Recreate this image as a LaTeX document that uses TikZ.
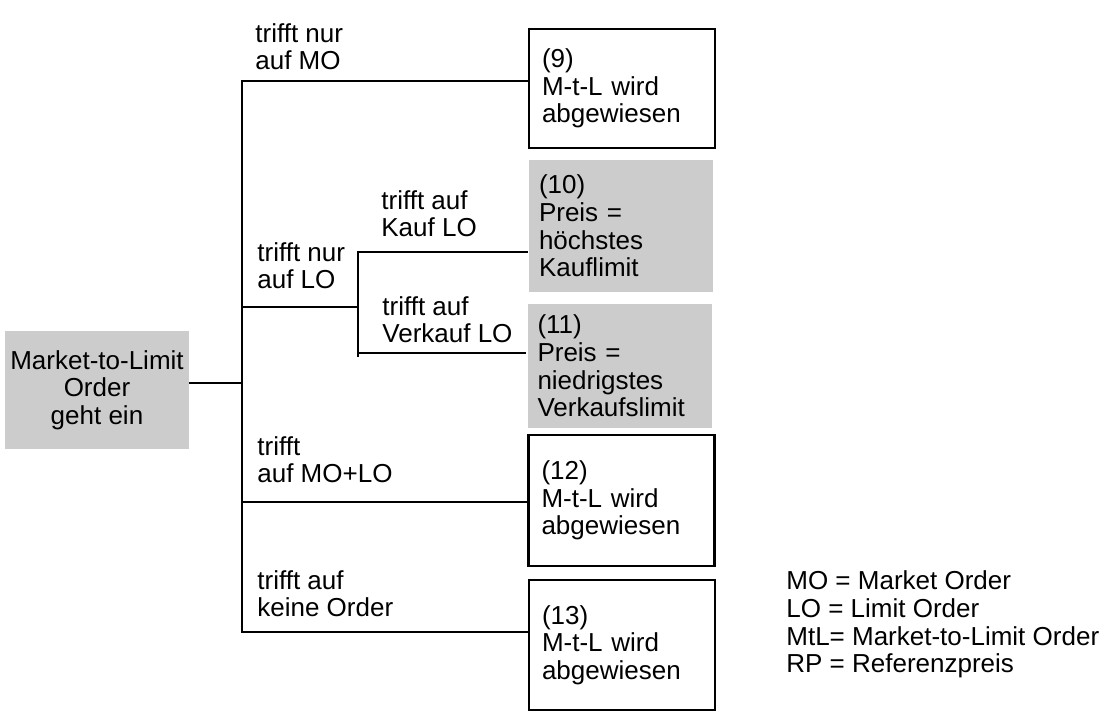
\documentclass[tikz,border=0pt]{standalone}
\usepackage{fontspec}
\setmainfont{Liberation Sans}
\usepackage{xcolor}
\usetikzlibrary{positioning,calc}
\definecolor{gray20}{RGB}{204,204,204}

\begin{document}
\begin{tikzpicture}[
		x=0.5pt,y=-0.5pt,
		font=\fontsize{13pt}{13.8pt}\selectfont,
		res/.style={draw,line width=1.3pt,align=left,text width=80pt,inner xsep=6.5pt,inner ysep=0pt},
		prc/.style={res,draw=none,fill=gray20,inner xsep=5pt,text width=82pt},
		src/.style={fill=gray20,align=center,minimum width=92pt,inner sep=0pt},
		lbl/.style={align=left,inner sep=0pt,text depth=0pt,anchor=south west},
		tree/.style={line width=1.3pt}
		]
		\useasboundingbox (0,0) rectangle (1104,720);
		\node[src,minimum height=59pt] (mtl) at (97,390) {Market-to-Limit\\Order\\geht ein};
		\node[res,minimum height=59.5pt] (r9) at (622,88.5) {(9)\\M-t-L wird\\abgewiesen};
		\node[prc,minimum height=66pt] (r10) at (621,226) {(10)\\Preis =\\höchstes\\Kauflimit};
		\node[prc,minimum height=62pt] (r11) at (619.5,366) {(11)\\Preis =\\niedrigstes\\Verkaufslimit};
		\node[res,minimum height=65.5pt] (r12) at (621.5,500.5) {(12)\\M-t-L wird\\abgewiesen};
		\node[res,minimum height=65pt] (r13) at (622,645) {(13)\\M-t-L wird\\abgewiesen};

		\coordinate (top) at (242,81);
		\coordinate (in) at (242,383);
		\coordinate (lo) at (242,307);
		\coordinate (molo) at (242,502);
		\coordinate (none) at (242,632);
		\coordinate (kauf) at (358,252);
		\coordinate (verk) at (358,353);
		\coordinate (subend) at (358,357);

		\draw[tree] (r9.west |- top) -- (top) -- (none) -- (r13.west |- none);
		\draw[tree] (mtl.east |- in) -- (in);
		\draw[tree] (lo) -- (kauf |- lo);
		\draw[tree] (r10.west |- kauf) -- (kauf) -- (subend);
		\draw[tree] (verk) -- (r11.west |- verk);
		\draw[tree] (molo) -- (r12.west |- molo);

		\node[lbl] (l9) at (255,70) {trifft nur\\auf MO};
		\node[lbl] (llo) at (257,289) {trifft nur\\auf LO};
		\node[lbl] (lkauf) at (381,237) {trifft auf\\Kauf LO};
		\node[lbl] (lverk) at (382,343) {trifft auf\\Verkauf LO};
		\node[lbl] (lmolo) at (257,483) {trifft\\auf MO+LO};
		\node[lbl] (lnone) at (257,617) {trifft auf\\keine Order};
		\node[lbl] (legend) at (786,673) {MO = Market Order\\LO = Limit Order\\MtL= Market-to-Limit Order\\RP = Referenzpreis};
	\end{tikzpicture}
\end{document}
